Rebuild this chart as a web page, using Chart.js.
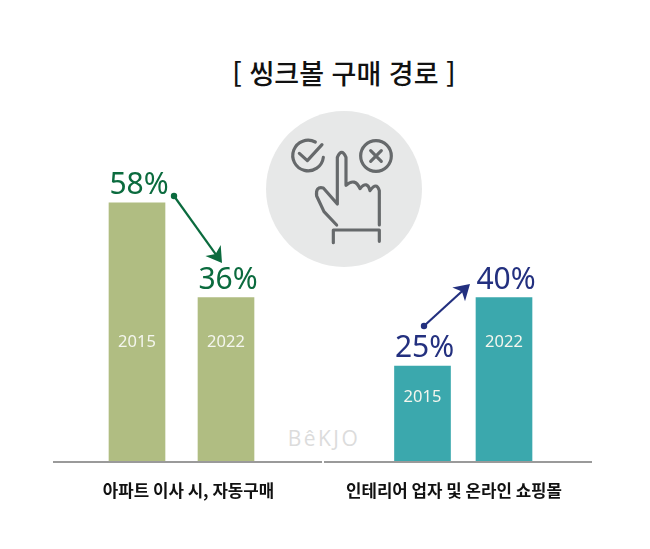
<!DOCTYPE html>
<html lang="ko">
<head>
<meta charset="utf-8">
<script src="https://cdn.jsdelivr.net/npm/chart.js@4/dist/chart.umd.min.js"></script>
<style>
  html, body { margin: 0; padding: 0; background: #fff; }
  body { position: relative; width: 650px; height: 549px; overflow: hidden; }
  h1 {
    position: absolute; left: 144px; top: 53px; width: 400px; margin: 0;
    text-align: center; font: 500 27px/40px "Noto Sans CJK KR"; color: #111;
  }
  #wm {
    position: absolute; left: 264px; top: 424px; width: 120px; text-align: center;
    font: 400 21px/28px "Open Sans"; letter-spacing: 2.5px; color: #dcdcdc;
  }
  svg { position: absolute; left: 0; top: 0; }
  canvas { position: absolute; top: 0; }
  #leftChart { left: 53px; }
  #rightChart { left: 324px; }
</style>
</head>
<body>
<h1>[ 씽크볼 구매 경로 ]</h1>
<svg width="650" height="549">
  <circle cx="344" cy="189" r="78" fill="#e7e8e8"/>
  <g transform="translate(260 100) scale(0.3333)" fill="none" stroke="#66696b" stroke-width="9.5" stroke-linecap="round" stroke-linejoin="round">
    <path d="M190 172 A46 46 0 1 1 166 126"/>
    <path d="M118 160 L142 182 L186 134"/>
    <circle cx="348" cy="168" r="46"/>
    <path d="M332 152 L364 184 M364 152 L332 184"/>
    <path d="M230 375 L192 335 L170 288 Q166 258 190 264 L232 312 L232 172 Q245 142 258 172 L258 256 Q285 232 300 266 Q322 240 330 272 Q350 244 358 272 L358 375"/>
    <path d="M220 428 L220 390 L358 390 L358 424"/>
  </g>
</svg>
<div id="wm">BêKJO</div>
<canvas id="leftChart" width="269" height="549"></canvas>
<canvas id="rightChart" width="268" height="549"></canvas>
<script>
const years = ["2015", "2022"];

const leftTitle = "아파트 이사 시, 자동구매";
const leftShares = ["58%", "36%"];
// heights as drawn in the picture, the bars there don't follow the printed % exactly
const leftBars = [58, 36.8];

const rightTitle = "인테리어 업자 및 온라인 쇼핑몰";
const rightShares = ["25%", "40%"];
const rightBars = [21.5, 36.8];

const labelFont = '"Noto Sans"';

function drawArrow(ctx, x1, y1, x2, y2, color) {
  const a = Math.atan2(y2 - y1, x2 - x1);
  ctx.strokeStyle = color;
  ctx.fillStyle = color;
  ctx.lineWidth = 2.2;
  ctx.beginPath();
  ctx.moveTo(x1, y1);
  ctx.lineTo(x2 - 6 * Math.cos(a), y2 - 6 * Math.sin(a));
  ctx.stroke();
  ctx.beginPath();
  ctx.arc(x1, y1, 3.2, 0, Math.PI * 2);
  ctx.fill();
  // arrow head with a notch
  ctx.beginPath();
  ctx.moveTo(x2, y2);
  ctx.lineTo(x2 - 18 * Math.cos(a - 0.55), y2 - 18 * Math.sin(a - 0.55));
  ctx.lineTo(x2 - 11 * Math.cos(a), y2 - 11 * Math.sin(a));
  ctx.lineTo(x2 - 18 * Math.cos(a + 0.55), y2 - 18 * Math.sin(a + 0.55));
  ctx.closePath();
  ctx.fill();
}

function makeChart(id, bars, shares, title, opts) {
  const ctx = document.getElementById(id).getContext("2d");

  const labelsPlugin = {
    id: "labels",
    afterDatasetsDraw(chart) {
      const c = chart.ctx;
      const meta = chart.getDatasetMeta(0);
      c.save();
      c.textAlign = "center";
      meta.data.forEach((bar, i) => {
        // percentage above the bar
        c.fillStyle = opts.shareColor;
        c.font = "400 30px " + labelFont;
        c.textBaseline = "alphabetic";
        c.fillText(shares[i], bar.x + 2, bar.y - 9);
        // year inside the bar
        c.fillStyle = "#f4f6ee";
        c.font = "400 16.5px " + labelFont;
        c.textBaseline = "middle";
        c.fillText(chart.data.labels[i], bar.x, Math.max(bar.y + 31, 342));
      });
      // baseline goes wider than the plot area
      const base = chart.scales.y.getPixelForValue(0);
      c.strokeStyle = "#9a9a9a";
      c.lineWidth = 2;
      c.beginPath();
      c.moveTo(0, base);
      c.lineTo(chart.width, base);
      c.stroke();
      // group name
      c.fillStyle = "#111";
      c.font = '700 16.8px "Noto Sans CJK KR"';
      c.textBaseline = "alphabetic";
      c.fillText(title, opts.titleX, base + 35);
      drawArrow(c, opts.arrow[0], opts.arrow[1], opts.arrow[2], opts.arrow[3], opts.shareColor);
      c.restore();
    },
  };

  return new Chart(ctx, {
    type: "bar",
    data: {
      labels: years,
      datasets: [
        {
          data: bars,
          backgroundColor: opts.barColor,
          barThickness: 56,
        },
      ],
    },
    plugins: [labelsPlugin],
    options: {
      responsive: false,
      animation: false,
      layout: {
        padding: { left: opts.padLeft, right: opts.padRight, top: 194, bottom: 87 },
      },
      plugins: {
        legend: { display: false },
        tooltip: { enabled: false },
      },
      scales: {
        x: { display: false },
        y: { display: false, min: 0, max: 60 },
      },
    },
  });
}

makeChart("leftChart", leftBars, leftShares, leftTitle, {
  barColor: "#b0bd82",
  shareColor: "#0b6b3e",
  padLeft: 39.5,
  padRight: 51.5,
  titleX: 135.5,
  arrow: [121, 196, 169, 263],
});

makeChart("rightChart", rightBars, rightShares, rightTitle, {
  barColor: "#3ba8ad",
  shareColor: "#23307f",
  padLeft: 57.75,
  padRight: 47.25,
  titleX: 130,
  arrow: [100, 326, 146, 284],
});
</script>
</body>
</html>
